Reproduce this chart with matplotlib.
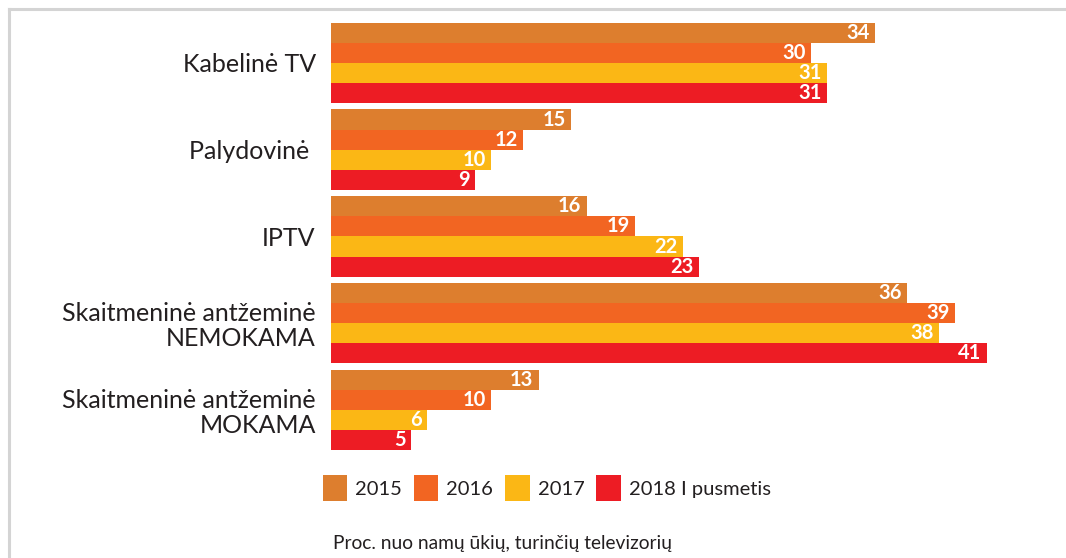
import matplotlib
matplotlib.use('Agg')
import matplotlib.pyplot as plt
from matplotlib.patches import Patch
from matplotlib.lines import Line2D
import numpy as np

plt.rcParams['font.family'] = ['Lato', 'Noto Sans', 'DejaVu Sans']

# duomenys
categories = ['Kabelinė TV', 'Palydovinė ', 'IPTV',
              'Skaitmeninė antžeminė\nNEMOKAMA', 'Skaitmeninė antžeminė\nMOKAMA']
years = ['2015', '2016', '2017', '2018 I pusmetis']
v2015 = [34, 15, 16, 36, 13]
v2016 = [30, 12, 19, 39, 10]
v2017 = [31, 10, 22, 38, 6]
v2018 = [31, 9, 23, 41, 5]
series = [v2015, v2016, v2017, v2018]
colors = ['#DD7E2E', '#F26522', '#FBB715', '#ED1C24']
text_col = '#231F20'

fig = plt.figure(figsize=(10.66, 5.58), dpi=100)
ax = fig.add_axes([331/1066, 0.1875, 45*16/1066, 0.7774])

y = np.arange(len(categories))
h = 0.232
for i, vals in enumerate(series):
    pos = y + (i - 1.5) * h
    bars = ax.barh(pos, vals, height=h, color=colors[i], label=years[i])
    for b, v in zip(bars, vals):
        ax.annotate(str(v), (b.get_width(), b.get_y() + h/2),
                    xytext=(-4, 0), textcoords='offset points',
                    ha='right', va='center', color='white',
                    fontsize=14.5, fontweight='bold')

ax.set_xlim(0, 45)
ax.set_ylim(4.5, -0.5)
ax.set_yticks(y)
ax.set_yticklabels(categories, fontsize=18, color=text_col, ha='right',
                   multialignment='right', linespacing=1.1)
ax.tick_params(axis='y', length=0, pad=11)
ax.set_xticks([])
for s in ax.spines.values():
    s.set_visible(False)

handles = [Patch(facecolor=c, edgecolor='none') for c in colors]
fig.legend(handles, years, loc='center left', bbox_to_anchor=(323/1066, 1 - 488/558),
           ncol=4, frameon=False, fontsize=14.5, handlelength=1.2, handleheight=1.54,
           handletextpad=0.4, columnspacing=0.6, borderpad=0, borderaxespad=0,
           labelcolor=text_col)

fig.text(333/1066, 1 - 543/558, 'Proc. nuo namų ūkių, turinčių televizorių',
         fontsize=13.8, color=text_col, ha='left', va='center')

# rėmelis
fig.add_artist(Line2D([9/1066, 9/1066], [0, 1 - 9/558], color='#D4D4D4', lw=2.2,
                      transform=fig.transFigure))
fig.add_artist(Line2D([9/1066, 1], [1 - 9/558, 1 - 9/558], color='#D4D4D4', lw=2.2,
                      transform=fig.transFigure))

fig.savefig('out.png', dpi=100)
